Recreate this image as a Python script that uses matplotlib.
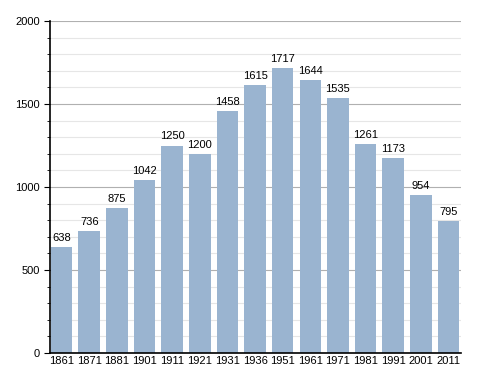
import numpy as np
import matplotlib.pyplot as plt
from matplotlib.ticker import MultipleLocator

plt.rcParams['font.family'] = ['Liberation Sans', 'DejaVu Sans']

years = ['1861', '1871', '1881', '1901', '1911', '1921', '1931', '1936',
         '1951', '1961', '1971', '1981', '1991', '2001', '2011']
population = [638, 736, 875, 1042, 1250, 1200, 1458, 1615,
              1717, 1644, 1535, 1261, 1173, 954, 795]

fig = plt.figure(figsize=(4.88, 3.73), dpi=100)
ax = fig.add_axes([0.1025, 0.0536, 0.842, 0.89])

x = np.arange(len(years))
ax.bar(x, population, width=0.78, color='#9ab4d0', zorder=2)
for xi, v in zip(x, population):
    ax.text(xi, v + 25, str(v), ha='center', va='bottom', fontsize=8)

ax.set_ylim(0, 2000)
ax.set_xlim(-0.42, 14.45)
ax.yaxis.set_major_locator(MultipleLocator(500))
ax.yaxis.set_minor_locator(MultipleLocator(100))
ax.grid(axis='y', which='major', color='#b0b0b0', linewidth=0.8, zorder=0)
ax.grid(axis='y', which='minor', color='#e6e6e6', linewidth=0.8, zorder=0)
ax.set_xticks(x)
ax.set_xticklabels(years)
ax.tick_params(axis='x', length=0, labelsize=8, pad=2)
ax.tick_params(axis='y', which='major', length=4, labelsize=8, direction='out')
ax.tick_params(axis='y', which='minor', length=2.5, direction='out')

for s in ['top', 'right']:
    ax.spines[s].set_visible(False)
ax.spines['left'].set_linewidth(1.2)
ax.spines['bottom'].set_linewidth(1.2)

plt.savefig('out.png', dpi=100)
